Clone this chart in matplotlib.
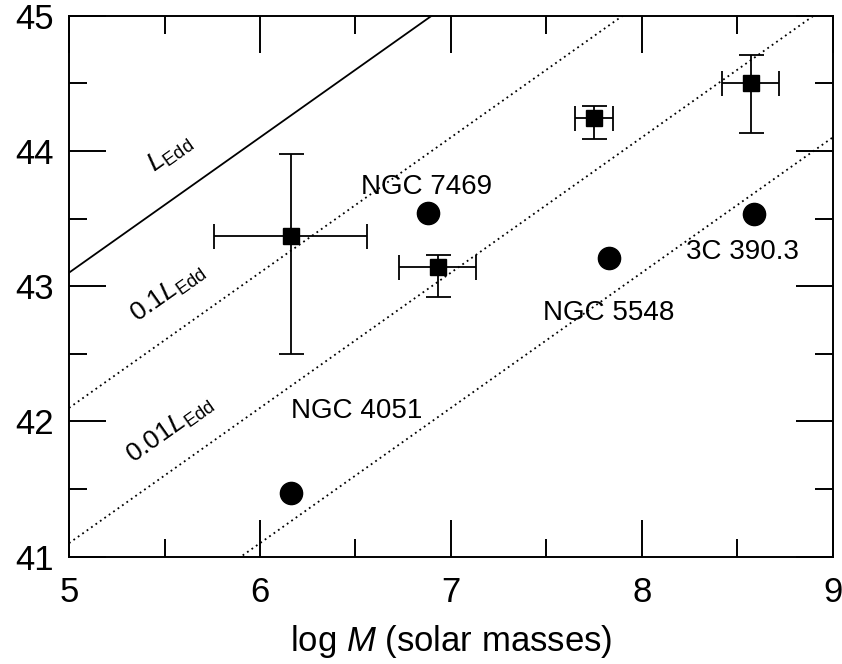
import matplotlib
matplotlib.use('Agg')
import matplotlib.pyplot as plt
import numpy as np

plt.rcParams['font.family'] = ['Liberation Sans', 'DejaVu Sans']
plt.rcParams['mathtext.fontset'] = 'custom'
plt.rcParams['mathtext.rm'] = 'Liberation Sans'
plt.rcParams['mathtext.it'] = 'Liberation Sans:italic'

# ---------------------------------------------------------------------------
# Data
# ---------------------------------------------------------------------------
# squares with error bars
sq_x = [6.16, 6.93, 7.75, 8.57]
sq_y = [43.37, 43.14, 44.24, 44.50]
sq_xlo = [0.40, 0.20, 0.10, 0.15]
sq_xhi = [0.40, 0.20, 0.10, 0.15]
sq_ylo = [0.87, 0.22, 0.15, 0.37]
sq_yhi = [0.61, 0.09, 0.09, 0.21]

# filled circles (named objects)
circ_names = ['NGC 7469', 'NGC 5548', '3C 390.3', 'NGC 4051']
circ_x = [6.88, 7.83, 8.59, 6.16]
circ_y = [43.54, 43.21, 43.53, 41.47]
name_x = [6.53, 7.48, 8.23, 6.16]
name_y = [43.73, 42.80, 43.25, 42.08]

# Eddington lines: log L = log M + offset
edd_offsets = [38.1, 37.1, 36.1, 35.1]
edd_styles = ['-', (0, (1, 2)), (0, (1, 2)), (0, (1, 2))]
edd_labels = [r'$L_{\rm Edd}$', r'$0.1L_{\rm Edd}$', r'$0.01L_{\rm Edd}$']
edd_label_x = [5.53, 5.52, 5.53]
edd_label_y = [43.98, 42.95, 41.94]

# ---------------------------------------------------------------------------
# Figure
# ---------------------------------------------------------------------------
fig = plt.figure(figsize=(8.42, 6.64), dpi=100)
ax = fig.add_axes([0.082, 0.1616, 0.907, 0.8148])
ax.set_xlim(5, 9)
ax.set_ylim(41, 45)

xs = np.array([5.0, 9.0])
for off, ls in zip(edd_offsets, edd_styles):
    ax.plot(xs, xs + off, color='black', lw=1.3, ls=ls, zorder=2)

for txt, lx, ly in zip(edd_labels, edd_label_x, edd_label_y):
    ax.text(lx, ly, txt, fontsize=19, rotation=45, transform_rotates_text=True,
            rotation_mode='anchor', ha='center', va='center')

ax.errorbar(sq_x, sq_y, xerr=[sq_xlo, sq_xhi], yerr=[sq_ylo, sq_yhi],
            fmt='s', color='black', ms=12, elinewidth=1.3, capsize=9,
            capthick=1.3, zorder=4)
ax.plot(circ_x, circ_y, 'o', color='black', ms=16, zorder=4)

for name, nx, ny in zip(circ_names, name_x, name_y):
    ax.text(nx, ny, name, fontsize=20, ha='left', va='center')

# ---------------------------------------------------------------------------
# Axes styling
# ---------------------------------------------------------------------------
ax.set_xticks([5, 6, 7, 8, 9])
ax.set_yticks([41, 42, 43, 44, 45])
ax.set_xticks(np.arange(5.5, 9, 1.0), minor=True)
ax.set_yticks(np.arange(41.5, 45, 1.0), minor=True)
ax.tick_params(which='both', direction='in', top=True, right=True, width=1.4,
               labelsize=25)
ax.tick_params(which='major', length=26.5)
ax.tick_params(which='minor', length=13.3)
ax.tick_params(axis='x', which='major', pad=14)
ax.tick_params(axis='y', which='major', pad=11)
for sp in ax.spines.values():
    sp.set_linewidth(1.4)

ax.set_xlabel(r'log $M$ (solar masses)', fontsize=25, labelpad=10)

fig.savefig('out.png', dpi=100)
